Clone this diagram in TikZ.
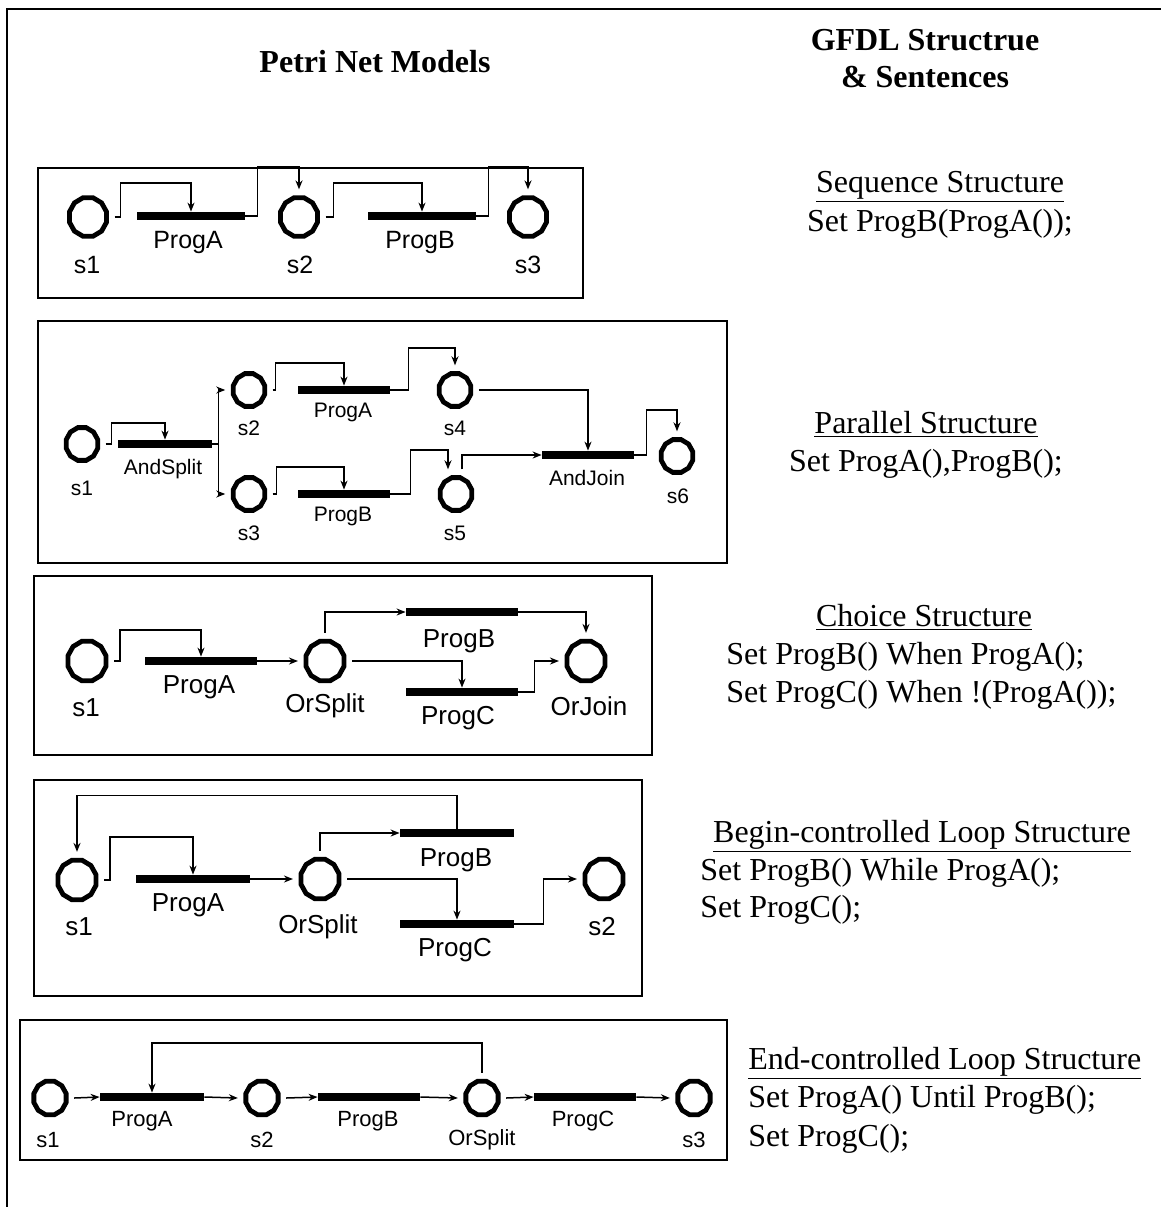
\documentclass[tikz,border=0pt]{standalone}
\usepackage{fontspec}
\setmainfont{Liberation Serif}
\setsansfont{Liberation Sans}
\usetikzlibrary{arrows.meta,shapes.geometric}
\begin{document}
\begin{tikzpicture}[x=0.5pt,y=-0.5pt,
  frame/.style={line width=1pt},
  plc/.style={draw,line width=2.4pt,regular polygon,regular polygon sides=12,
              inner sep=0pt,outer sep=4pt,minimum size=#1,yscale=1.04},
  tbar/.style={fill=black,draw=none,inner sep=0pt,minimum height=4pt,minimum width=#1},
  flow/.style={line width=0.75pt,-{Stealth[length=4.5pt,width=3.5pt]}},
  lbl/.style={font=\sffamily\fontsize{#1}{#1}\selectfont,inner sep=0pt},
  txt/.style={font=\fontsize{16}{19}\selectfont,inner sep=0pt},
  head/.style={font=\fontsize{16}{19}\selectfont\bfseries,inner sep=0pt}]

\fill[white] (0,0) rectangle (1161,1207);
\useasboundingbox (0,0) rectangle (1161,1207);

% outer frame (top and left edges)
\draw[frame] (1161,9) -- (7,9) -- (7,1207);

% column headings
\node[head,anchor=base] (hpn) at (375,72) {Petri Net Models};
\node[head,anchor=base] (hg1) at (925,50) {GFDL Structrue};
\node[head,anchor=base] (hg2) at (925,87) {\& Sentences};

% ---------------- sequence ----------------
\draw[frame] (38,168) rectangle (583,298);
\node[plc=19.2pt] (p1s1) at (88,217) {};
\node[plc=19.2pt] (p1s2) at (299,217) {};
\node[plc=19.2pt] (p1s3) at (528,217) {};
\node[tbar=54pt] (p1tA) at (191,216) {};
\node[tbar=54pt] (p1tB) at (422,216) {};
\node[lbl=12.5pt] (p1l1) at (87,265) {s1};
\node[lbl=12.5pt] (p1l2) at (300,265) {s2};
\node[lbl=12.5pt] (p1l3) at (528,265) {s3};
\node[lbl=12.5pt] (p1lA) at (188,242) {ProgA};
\node[lbl=12.5pt] (p1lB) at (420,242) {ProgB};
\draw[flow] (p1s1.east) -- ++(6,0) -- ++(0,-34) -| (p1tA.north);
\draw[flow] (p1tA.east) -- ++(12,0) -- ++(0,-49) -| (p1s2.north);
\draw[flow] (p1s2.east) -- ++(8,0) -- ++(0,-34) -| (p1tB.north);
\draw[flow] (p1tB.east) -- ++(12,0) -- ++(0,-49) -| (p1s3.north);

\node[txt,anchor=base] (q1a) at (940,192) {\underline{Sequence Structure}};
\node[txt,anchor=base] (q1b) at (940,231) {Set ProgB(ProgA());};

% ---------------- parallel ----------------
\draw[frame] (38,321) rectangle (727,563);
\node[plc=16.3pt] (p2s1) at (82,444) {};
\node[plc=16.3pt] (p2s2) at (249,390) {};
\node[plc=16.3pt] (p2s3) at (249,494) {};
\node[plc=16.3pt] (p2s4) at (455,390) {};
\node[plc=16.3pt] (p2s5) at (456,494) {};
\node[plc=16.3pt] (p2s6) at (677,456) {};
\node[tbar=47pt] (p2tS) at (165,444) {};
\node[tbar=46pt] (p2tA) at (344,390) {};
\node[tbar=46pt] (p2tB) at (344,494) {};
\node[tbar=46pt] (p2tJ) at (588,455) {};
\node[lbl=10.5pt] (p2l1) at (82,488) {s1};
\node[lbl=10.5pt] (p2l2) at (249,428) {s2};
\node[lbl=10.5pt] (p2l3) at (249,533) {s3};
\node[lbl=10.5pt] (p2l4) at (455,428) {s4};
\node[lbl=10.5pt] (p2l5) at (455,533) {s5};
\node[lbl=10.5pt] (p2l6) at (678,496) {s6};
\node[lbl=10.5pt] (p2lS) at (163,469) {AndSplit};
\node[lbl=10.5pt] (p2lA) at (343,412) {ProgA};
\node[lbl=10.5pt] (p2lB) at (343,516) {ProgB};
\node[lbl=10.5pt] (p2lJ) at (587,478) {AndJoin};
\draw[flow] (p2s1.east) -- ++(6,0) -- ++(0,-21) -| (p2tS.north);
\draw[flow] (p2tS.east) -- ++(6,0) |- (p2s2.west);
\draw[flow] (p2tS.east) -- ++(6,0) |- (p2s3.west);
\draw[flow] (p2s2.east) -- ++(3,0) -- ++(0,-27) -| (p2tA.north);
\draw[flow] (p2s3.east) -- ++(4,0) -- ++(0,-27) -| (p2tB.north);
\draw[flow] (p2tA.east) -- ++(18,0) -- ++(0,-42) -| (p2s4.north);
\draw[flow] (p2tB.east) -- ++(20,0) -- ++(0,-44) -| ([xshift=-4pt]p2s5.north);
\draw[flow] (p2s4.east) -| (p2tJ.north);
\draw[flow] ([xshift=3pt]p2s5.north) |- (p2tJ.west);
\draw[flow] (p2tJ.east) -- ++(12,0) -- ++(0,-45) -| (p2s6.north);

\node[txt,anchor=base] (q2a) at (926,433) {\underline{Parallel Structure}};
\node[txt,anchor=base] (q2b) at (926,471) {Set ProgA(),ProgB();};

% ---------------- choice ----------------
\draw[frame] (34,576) rectangle (652,755);
\node[plc=19.7pt] (p3s1) at (87,661) {};
\node[plc=19.7pt] (p3or) at (325,661) {};
\node[plc=19.7pt] (p3oj) at (586,661) {};
\node[tbar=56pt] (p3tA) at (201,661) {};
\node[tbar=56pt] (p3tB) at (462,612) {};
\node[tbar=56pt] (p3tC) at (462,692) {};
\node[lbl=13pt] (p3l1) at (86,708) {s1};
\node[lbl=13pt] (p3lo) at (325,706) {OrSplit};
\node[lbl=13pt] (p3lj) at (589,706) {OrJoin};
\node[lbl=13pt] (p3lA) at (199,687) {ProgA};
\node[lbl=13pt] (p3lB) at (459,641) {ProgB};
\node[lbl=13pt] (p3lC) at (458,718) {ProgC};
\draw[flow] (p3s1.east) -- ++(6,0) -- ++(0,-31) -| (p3tA.north);
\draw[flow] (p3tA.east) -- (p3or.west);
\draw[flow] (p3or.north) |- (p3tB.west);
\draw[flow] (p3or.east) -| (p3tC.north);
\draw[flow] (p3tB.east) -| (p3oj.north);
\draw[flow] (p3tC.east) -- ++(16,0) |- (p3oj.west);

\node[txt,anchor=base] (q3a) at (924,626) {\underline{Choice Structure}};
\node[txt,anchor=base west] (q3b) at (726,664) {Set ProgB() When ProgA();};
\node[txt,anchor=base west] (q3c) at (726,702) {Set ProgC() When !(ProgA());};

% ---------------- begin-controlled loop ----------------
\draw[frame] (34,780) rectangle (642,996);
\node[plc=19.7pt] (p4s1) at (77,880) {};
\node[plc=19.7pt] (p4or) at (320,879) {};
\node[plc=19.7pt] (p4s2) at (604,879) {};
\node[tbar=57pt] (p4tA) at (193,879) {};
\node[tbar=57pt] (p4tB) at (457,833) {};
\node[tbar=57pt] (p4tC) at (457,924) {};
\node[lbl=13pt] (p4l1) at (79,927) {s1};
\node[lbl=13pt] (p4lo) at (318,927) {OrSplit};
\node[lbl=13pt] (p4l2) at (602,927) {s2};
\node[lbl=13pt] (p4lA) at (188,905) {ProgA};
\node[lbl=13pt] (p4lB) at (456,860) {ProgB};
\node[lbl=13pt] (p4lC) at (455,950) {ProgC};
\draw[flow] (p4tB.north) -- ++(0,-33) -| (p4s1.north);
\draw[flow] (p4s1.east) -- ++(6,0) -- ++(0,-43) -| (p4tA.north);
\draw[flow] (p4tA.east) -- (p4or.west);
\draw[flow] (p4or.north) |- (p4tB.west);
\draw[flow] (p4or.east) -| (p4tC.north);
\draw[flow] (p4tC.east) -- ++(29,0) |- (p4s2.west);

\node[txt,anchor=base] (q4a) at (922,842) {\underline{Begin-controlled Loop Structure}};
\node[txt,anchor=base west] (q4b) at (700,880) {Set ProgB() While ProgA();};
\node[txt,anchor=base west] (q4c) at (700,917) {Set ProgC();};

% ---------------- end-controlled loop ----------------
\draw[frame] (20,1020) rectangle (727,1160);
\node[plc=16.7pt] (p5s1) at (50,1098) {};
\node[plc=16.7pt] (p5s2) at (262,1098) {};
\node[plc=16.7pt] (p5or) at (482,1098) {};
\node[plc=16.7pt] (p5s3) at (694,1098) {};
\node[tbar=52pt] (p5tA) at (152,1097) {};
\node[tbar=51pt] (p5tB) at (369,1097) {};
\node[tbar=51pt] (p5tC) at (585,1097) {};
\node[lbl=11pt] (p5l1) at (48,1140) {s1};
\node[lbl=11pt] (p5l2) at (262,1140) {s2};
\node[lbl=11pt] (p5lo) at (482,1140) {OrSplit};
\node[lbl=11pt] (p5l3) at (694,1140) {s3};
\node[lbl=11pt] (p5lA) at (142,1121) {ProgA};
\node[lbl=11pt] (p5lB) at (368,1121) {ProgB};
\node[lbl=11pt] (p5lC) at (583,1121) {ProgC};
\draw[flow] (p5s1.east) -- (p5tA.west);
\draw[flow] (p5tA.east) -- (p5s2.west);
\draw[flow] (p5s2.east) -- (p5tB.west);
\draw[flow] (p5tB.east) -- (p5or.west);
\draw[flow] (p5or.east) -- (p5tC.west);
\draw[flow] (p5tC.east) -- (p5s3.west);
\draw[flow] (p5or.north) -- ++(0,-30) -| (p5tA.north);

\node[txt,anchor=base west] (q5a) at (748,1069) {\underline{End-controlled Loop Structure}};
\node[txt,anchor=base west] (q5b) at (748,1107) {Set ProgA() Until ProgB();};
\node[txt,anchor=base west] (q5c) at (748,1146) {Set ProgC();};
\end{tikzpicture}
\end{document}
